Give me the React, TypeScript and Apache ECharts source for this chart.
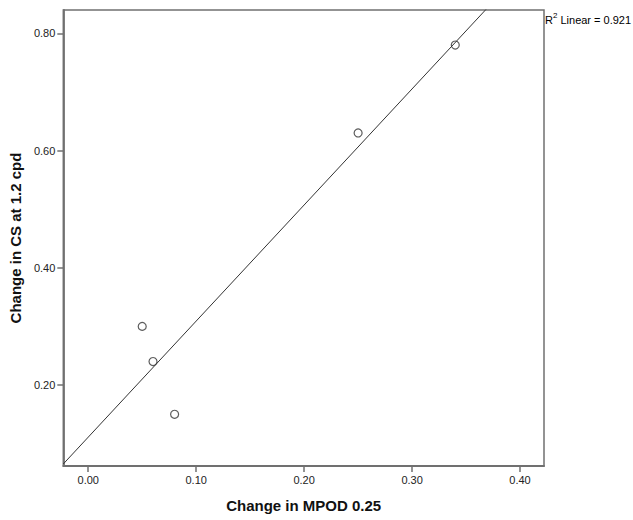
import React, { useEffect, useRef } from "react";
import * as echarts from "echarts";

// Observations: change in MPOD at 0.25 deg vs change in contrast sensitivity at 1.2 cpd
const mpodChange = [0.05, 0.06, 0.08, 0.25, 0.34];
const csChange = [0.30, 0.24, 0.15, 0.63, 0.78];

const xTicks = [0.0, 0.1, 0.2, 0.3, 0.4];
const yTicks = [0.2, 0.4, 0.6, 0.8];

const X_MIN = -0.0231;
const X_MAX = 0.4222;
const Y_MIN = 0.0618;
const Y_MAX = 0.8398;

// Ordinary least-squares fit of CS change on MPOD change
function linearFit(xs: number[], ys: number[]) {
  const n = xs.length;
  const mx = xs.reduce((a, b) => a + b, 0) / n;
  const my = ys.reduce((a, b) => a + b, 0) / n;
  let sxy = 0, sxx = 0, syy = 0;
  for (let i = 0; i < n; i++) {
    sxy += (xs[i] - mx) * (ys[i] - my);
    sxx += (xs[i] - mx) ** 2;
    syy += (ys[i] - my) ** 2;
  }
  const slope = sxy / sxx;
  return { slope, intercept: my - slope * mx, r2: (sxy * sxy) / (sxx * syy) };
}

const FONT = "'Liberation Sans', Arial, sans-serif";
const AXIS_COLOR = "#707070";

export default function App() {
  const ref = useRef<HTMLDivElement>(null);

  useEffect(() => {
    document.body.style.margin = "0";
    if (!ref.current) return;
    const chart = echarts.init(ref.current, undefined, { renderer: "svg" });
    const fit = linearFit(mpodChange, csChange);
    const fitLine = [X_MIN, X_MAX].map((x) => [x, fit.intercept + fit.slope * x]);

    chart.setOption({
      animation: false,
      backgroundColor: "#ffffff",
      textStyle: { fontFamily: FONT },
      grid: {
        left: 63,
        top: 10,
        width: 481,
        height: 456,
        show: true,
        borderColor: AXIS_COLOR,
        borderWidth: 1.5,
        backgroundColor: "transparent",
      },
      xAxis: {
        type: "value",
        min: X_MIN,
        max: X_MAX,
        name: "Change in MPOD 0.25",
        nameLocation: "middle",
        nameGap: 32,
        nameTextStyle: { fontFamily: FONT, fontWeight: "bold", fontSize: 15, color: "#111" },
        axisLine: { show: true, onZero: false, lineStyle: { color: AXIS_COLOR, width: 1.8 } },
        axisTick: { show: true, length: 6, customValues: xTicks, lineStyle: { color: AXIS_COLOR, width: 1.5 } },
        axisLabel: {
          customValues: xTicks,
          formatter: (v: number) => v.toFixed(2),
          fontSize: 11,
          color: "#222",
          margin: 8,
          fontFamily: FONT,
        },
        splitLine: { show: false },
      },
      yAxis: {
        type: "value",
        min: Y_MIN,
        max: Y_MAX,
        name: "Change in CS at 1.2 cpd",
        nameLocation: "middle",
        nameGap: 36,
        nameRotate: 90,
        nameTextStyle: { fontFamily: FONT, fontWeight: "bold", fontSize: 15, color: "#111" },
        axisLine: { show: true, onZero: false, lineStyle: { color: AXIS_COLOR, width: 1.8 } },
        axisTick: { show: true, length: 6, customValues: yTicks, lineStyle: { color: AXIS_COLOR, width: 1.5 } },
        axisLabel: {
          customValues: yTicks,
          formatter: (v: number) => v.toFixed(2),
          fontSize: 11,
          color: "#222",
          margin: 8,
          fontFamily: FONT,
        },
        splitLine: { show: false },
      },
      series: [
        {
          type: "line",
          data: fitLine,
          clip: true,
          symbol: "none",
          lineStyle: { color: "#333", width: 1 },
          silent: true,
        },
        {
          type: "scatter",
          data: mpodChange.map((x, i) => [x, csChange[i]]),
          symbol: "circle",
          symbolSize: 8,
          itemStyle: { color: "#ffffff", borderColor: "#333", borderWidth: 1.2 },
        },
      ],
      graphic: [
        {
          type: "text",
          left: 545,
          top: 11,
          style: {
            text: "{b|R}{s|2}{b| Linear = " + fit.r2.toFixed(3) + "}",
            rich: {
              b: { fontFamily: FONT, fontSize: 11, color: "#222", verticalAlign: "bottom", lineHeight: 14 },
              s: { fontFamily: FONT, fontSize: 8, color: "#222", verticalAlign: "top", lineHeight: 14 },
            },
          },
        },
      ],
    });

    return () => chart.dispose();
  }, []);

  return (
    <div
      ref={ref}
      style={{ position: "absolute", left: 0, top: 0, width: 633, height: 520 }}
    />
  );
}
